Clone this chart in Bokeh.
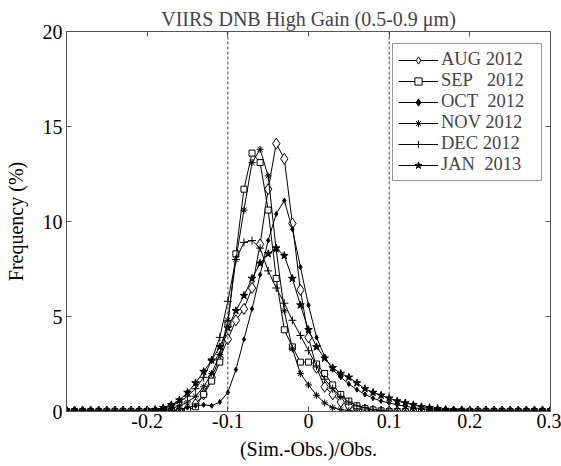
from bokeh.plotting import figure
from bokeh.models import (Span, Legend, LegendItem, LinearAxis, FixedTicker,
                          Range1d, CustomJSTickFormatter)
from bokeh.embed import file_html
from bokeh.resources import INLINE

# bin centres of (Sim.-Obs.)/Obs.
x = [-0.30, -0.29, -0.28, -0.27, -0.26, -0.25, -0.24, -0.23, -0.22, -0.21,
     -0.20, -0.19, -0.18, -0.17, -0.16, -0.15, -0.14, -0.13, -0.12, -0.11,
     -0.10, -0.09, -0.08, -0.07, -0.06, -0.05, -0.04, -0.03, -0.02, -0.01,
     0.00, 0.01, 0.02, 0.03, 0.04, 0.05, 0.06, 0.07, 0.08, 0.09,
     0.10, 0.11, 0.12, 0.13, 0.14, 0.15, 0.16, 0.17, 0.18, 0.19,
     0.20, 0.21, 0.22, 0.23, 0.24, 0.25, 0.26, 0.27, 0.28, 0.29, 0.30]

aug_2012 = [0, 0, 0, 0, 0, 0, 0, 0, 0, 0,
            0, 0, 0, 0, 0.05, 0.15, 0.4, 0.9, 1.8, 2.8,
            3.8, 4.8, 5.4, 6.5, 8.8, 11.7, 14.1, 13.3, 9.9, 6.4,
            3.9, 2.3, 1.3, 0.9, 0.5, 0.3, 0.15, 0.08, 0.03, 0,
            0, 0, 0, 0, 0, 0, 0, 0, 0, 0,
            0, 0, 0, 0, 0, 0, 0, 0, 0, 0, 0]

sep_2012 = [0, 0, 0, 0, 0, 0, 0, 0, 0, 0,
            0, 0, 0, 0, 0, 0.05, 0.25, 0.9, 1.6, 2.6,
            4.6, 8.3, 11.7, 13.6, 13.1, 10.6, 7.0, 4.3, 3.4, 2.6,
            2.6, 2.5, 2.0, 1.4, 0.9, 0.55, 0.3, 0.15, 0.08, 0.03,
            0, 0, 0, 0, 0, 0, 0, 0, 0, 0,
            0, 0, 0, 0, 0, 0, 0, 0, 0, 0, 0]

oct_2012 = [0, 0, 0, 0, 0, 0, 0, 0, 0, 0,
            0, 0, 0, 0.05, 0.1, 0.2, 0.3, 0.35, 0.3, 0.5,
            1.0, 2.2, 3.8, 5.4, 7.2, 9.0, 10.4, 11.1, 9.6, 7.6,
            5.6, 3.9, 2.9, 2.2, 1.8, 1.45, 1.15, 0.9, 0.7, 0.55,
            0.45, 0.35, 0.28, 0.2, 0.15, 0.1, 0.07, 0.05, 0.03, 0,
            0, 0, 0, 0, 0, 0, 0, 0, 0, 0, 0]

nov_2012 = [0, 0, 0, 0, 0, 0, 0, 0, 0, 0,
            0, 0.03, 0.08, 0.15, 0.3, 0.5, 0.8, 1.3, 2.0, 3.0,
            4.8, 8.0, 10.6, 13.1, 13.8, 12.4, 8.5, 5.3, 3.3, 2.0,
            1.4, 0.85, 0.45, 0.2, 0.1, 0.05, 0, 0, 0, 0,
            0, 0, 0, 0, 0, 0, 0, 0, 0, 0,
            0, 0, 0, 0, 0, 0, 0, 0, 0, 0, 0]

dec_2012 = [0, 0, 0, 0, 0, 0, 0, 0, 0, 0,
            0.03, 0.07, 0.15, 0.3, 0.5, 0.8, 1.2, 1.8, 2.7, 3.9,
            5.8, 8.0, 8.9, 9.0, 8.6, 7.4, 6.5, 5.7, 4.8, 4.0,
            3.2, 2.4, 1.7, 1.2, 0.8, 0.5, 0.3, 0.2, 0.1, 0.05,
            0.02, 0, 0, 0, 0, 0, 0, 0, 0, 0,
            0, 0, 0, 0, 0, 0, 0, 0, 0, 0, 0]

jan_2013 = [0, 0, 0, 0, 0, 0, 0, 0, 0, 0,
            0.05, 0.1, 0.2, 0.35, 0.6, 1.0, 1.5, 2.1, 2.7, 3.4,
            4.4, 5.3, 6.1, 7.0, 7.8, 8.3, 8.6, 8.2, 7.0, 5.6,
            4.3, 3.4, 2.8, 2.3, 2.0, 1.8, 1.5, 1.2, 1.0, 0.85,
            0.7, 0.55, 0.45, 0.35, 0.25, 0.2, 0.15, 0.1, 0.07, 0.05,
            0.03, 0, 0, 0, 0, 0, 0, 0, 0, 0, 0]

labels = ["AUG 2012", "SEP\u00a0\u00a0\u00a02012", "OCT\u00a0\u00a02012",
          "NOV 2012", "DEC 2012", "JAN\u00a0\u00a02013"]
series = [aug_2012, sep_2012, oct_2012, nov_2012, dec_2012, jan_2013]

x_ticks = [-0.2, -0.1, 0, 0.1, 0.2, 0.3]
y_ticks = [0, 5, 10, 15, 20]

FONT = "Liberation Serif"
AXC = "#555555"

p = figure(width=561, height=466, output_backend="svg", toolbar_location=None,
           x_range=Range1d(-0.3, 0.3), y_range=Range1d(0, 20),
           min_border_left=66, min_border_right=11, min_border_top=31,
           min_border_bottom=55, title="VIIRS DNB High Gain (0.5-0.9 \u03bcm)")
p.grid.visible = False
p.outline_line_color = AXC
p.background_fill_color = "white"
p.border_fill_color = "white"

p.title.text_font = FONT
p.title.text_font_size = "20px"
p.title.text_font_style = "normal"
p.title.align = "center"
p.title.standoff = 3
p.title.offset = 0

fmt = CustomJSTickFormatter(code="""
const v = Math.round(tick*10)/10;
return v === 0 ? '0' : v.toFixed(1);
""")
blank = CustomJSTickFormatter(code="return '';")

for ax in p.xaxis:
    ax.ticker = FixedTicker(ticks=x_ticks)
    ax.formatter = fmt
for ax in p.yaxis:
    ax.ticker = FixedTicker(ticks=y_ticks)

p.xaxis.axis_label = "(Sim.-Obs.)/Obs."
p.yaxis.axis_label = "Frequency (%)"
for ax in list(p.xaxis) + list(p.yaxis):
    ax.axis_line_color = AXC
    ax.major_tick_line_color = AXC
    ax.major_tick_in = 5
    ax.major_tick_out = 0
    ax.minor_tick_line_color = None
    ax.major_label_text_font = FONT
    ax.major_label_text_font_size = "20px"
    ax.major_label_text_color = "black"
    ax.axis_label_text_font = FONT
    ax.axis_label_text_font_size = "20px"
    ax.axis_label_text_font_style = "normal"
    ax.axis_label_text_color = "black"
p.xaxis.major_label_standoff = 2
p.xaxis.axis_label_standoff = 7
p.yaxis.major_label_standoff = 4
p.yaxis.axis_label_standoff = 13

top_ax = LinearAxis(ticker=FixedTicker(ticks=x_ticks), formatter=blank,
                    major_tick_in=5, major_tick_out=0, minor_tick_line_color=None,
                    axis_line_color=AXC, major_tick_line_color=AXC, major_label_standoff=0)
right_ax = LinearAxis(ticker=FixedTicker(ticks=y_ticks), formatter=blank,
                      major_tick_in=5, major_tick_out=0, minor_tick_line_color=None,
                      axis_line_color=AXC, major_tick_line_color=AXC, major_label_standoff=0)
p.add_layout(top_ax, "above")
p.add_layout(right_ax, "right")

for loc in (-0.1, 0.1):
    p.add_layout(Span(location=loc, dimension="height", line_color="#444444",
                      line_width=1, line_dash="3 2"))

marker_specs = [
    dict(marker="diamond", size=11, fill_color="white"),
    dict(marker="square", size=6, fill_color="white"),
    dict(marker="diamond", size=5, fill_color="black"),
    dict(marker="asterisk", size=7, fill_color="black"),
    dict(marker="cross", size=8, fill_color="black"),
    dict(marker="star", size=8, fill_color="black"),
]

items = []
for lab, ys, spec in zip(labels, series, marker_specs):
    ln = p.line(x, ys, line_color="black", line_width=1)
    sc = p.scatter(x, ys, marker=spec["marker"], size=spec["size"],
                   line_color="black", fill_color=spec["fill_color"], line_width=1)
    items.append(LegendItem(label=lab, renderers=[ln, sc]))

legend = Legend(items=items, location=(326, 230), orientation="vertical",
                label_text_font=FONT, label_text_font_size="18.5px",
                glyph_width=40, glyph_height=18, label_height=18, spacing=0,
                padding=5, label_standoff=3, label_width=95, margin=0,
                border_line_color="#333333", border_line_width=1,
                background_fill_color="white", background_fill_alpha=1.0)
p.add_layout(legend)

open("out.html", "w").write(file_html(p, INLINE))
